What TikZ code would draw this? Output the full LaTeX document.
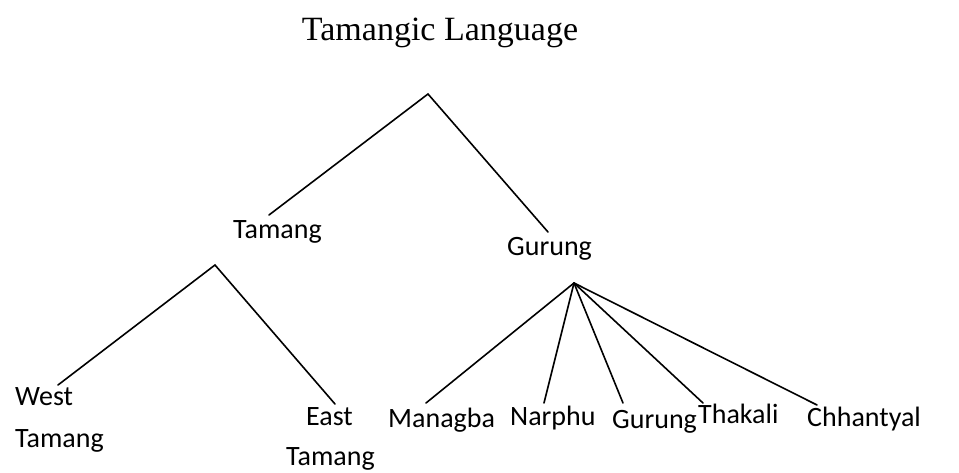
\documentclass[tikz,border=0pt]{standalone}
\usepackage{fontspec}
\setmainfont{Carlito}
\newfontfamily\titlefont{Liberation Serif}
\begin{document}
\begin{tikzpicture}[x=1pt,y=-1pt,
  branch/.style={line width=1.6pt,line cap=round},
  lang/.style={inner sep=0pt,font=\fontsize{28}{42}\selectfont,align=left},
  heading/.style={inner sep=0pt,font=\titlefont\fontsize{34}{40}\selectfont}]
\useasboundingbox (0,0) rectangle (959,472);

% title
\node[heading,anchor=base] (title) at (440,40) {Tamangic Language};

% labels
\node[lang,anchor=base west] (tamang) at (233,238) {Tamang};
\node[lang,anchor=base west] (gurung) at (507,255) {Gurung};
\node[lang,anchor=base west] (west) at (15,405) {West};
\node[lang,anchor=base west] (westb) at (15,447) {Tamang};
\node[lang,anchor=base west] (east) at (306,425) {East};
\node[lang,anchor=base west] (eastb) at (286,465) {Tamang};
\node[lang,anchor=base west] (managba) at (388,427) {Managba};
\node[lang,anchor=base west] (narphu) at (510,425) {Narphu};
\node[lang,anchor=base west] (gurungb) at (612,428) {Gurung};
\node[lang,anchor=base west] (thakali) at (698,423) {Thakali};
\node[lang,anchor=base west] (chhantyal) at (807,426) {Chhantyal};

% branching points and line ends
\coordinate (root) at (428,94);
\coordinate (tnode) at (215,265);
\coordinate (gnode) at (574,283);
\coordinate (e-tamang) at (269,215);
\coordinate (e-gurung) at (548,232);
\coordinate (e-west) at (58,385);
\coordinate (e-east) at (335,404);
\coordinate (e-managba) at (426,403);
\coordinate (e-narphu) at (544,403);
\coordinate (e-gurungb) at (623,403);
\coordinate (e-thakali) at (703,403);
\coordinate (e-chhantyal) at (817,405);

% branches
\draw[branch] (e-tamang) -- (root) -- (e-gurung);
\draw[branch] (e-west) -- (tnode) -- (e-east);
\foreach \e in {managba,narphu,gurungb,thakali,chhantyal}
  \draw[branch] (gnode) -- (e-\e);
\end{tikzpicture}
\end{document}
